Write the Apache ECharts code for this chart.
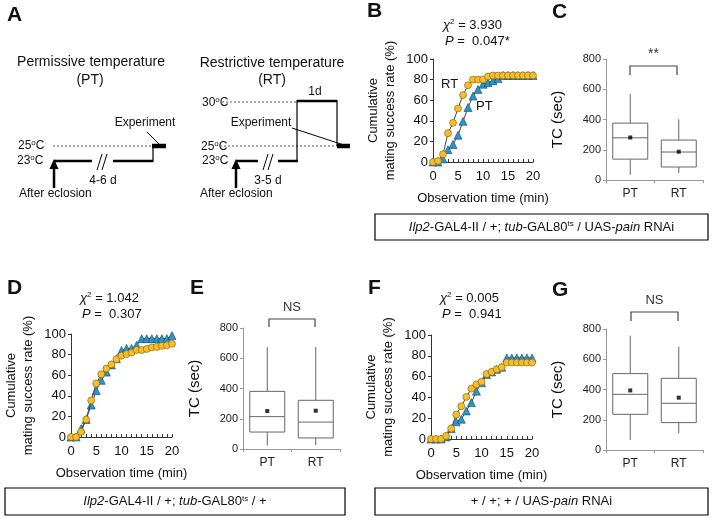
<!DOCTYPE html>
<html><head><meta charset="utf-8">
<script src="https://cdn.jsdelivr.net/npm/echarts@6/dist/echarts.min.js"></script>
<style>html,body{margin:0;padding:0;background:#fff}#c{width:713px;height:522px}</style>
</head><body><div id="c"></div>
<script>
// ---------- DATA ----------
const minutes = [0,1,2,3,4,5,6,7,8,9,10,11,12,13,14,15,16,17,18,19,20];
const B_RT = [0,1,7.5,28,38,52,65,74.5,80,80,80,83,84,84,84,84,84,84,84,84,84];
const B_PT = [0,0,3,12,17,26,39.5,53,64,70.5,75.5,77,79,81,84,84,84,84,84,84,84];
const D_RT = [0,0,5,17,35.5,52,61,66.5,70.5,75.5,79,80.5,82,84.5,84.5,85.5,87,87.5,88.5,89,90.5];
const D_PT = [0,0,8,17,31,45,55,63,70,76,84,86,86,89,95.5,95.5,95.5,95.5,95.5,95.5,98.5];
const F_RT = [0,0,0,3,10,23.5,31.5,40.5,48.5,52.5,55,62.5,64.5,67,69,73.5,73.5,73.5,73.5,73.5,73.5];
const F_PT = [0,0,0,2,10,16.5,19,27,35,46,54,62,64.5,67,69,78,78,78,78,78,78];
const boxCats = ['PT','RT'];
// [min, Q1, median, Q3, max]
const C_box = [[35,138,279,376,569],[46,86,185,264,402]];
const C_mean = [281,187];
const E_box = [[22,112,214,381,674],[26,73,178,322,674]];
const E_mean = [251,253];
const G_box = [[66,236,368,505,756],[110,181,309,474,683]];
const G_mean = [394,346];
const lineYTicks = [0,100,20];
const boxYTicks = [0,800,200];

// ---------- STYLE ----------
const FF = '"Liberation Sans", Arial, sans-serif';
const YEL = '#F6BE2C', YEL_B = '#7a5c0a';
const BLU = '#2C93C6', BLU_B = '#164a66';

const chart = echarts.init(document.getElementById('c'), null, {renderer:'canvas'});

const lineGrids = [
  {left:433, top:59, width:100, height:103},
  {left:71, top:334, width:101, height:103},
  {left:431, top:335, width:101, height:104}
];
const boxGrids = [
  {left:606, top:59, width:97, height:121},
  {left:243, top:328, width:97, height:121},
  {left:606, top:329, width:97, height:121}
];
const grids = lineGrids.concat(boxGrids);
const xAxes = [], yAxes = [], series = [];

lineGrids.forEach((g,i)=>{
  xAxes.push({gridIndex:i, type:'value', min:0, max:20, interval:5,
    name:'Observation time (min)', nameLocation:'middle', nameGap:30,
    nameTextStyle:{fontSize:13, fontFamily:FF, color:'#111'},
    axisLine:{lineStyle:{color:'#333', width:1}},
    axisTick:{inside:true, length:3, lineStyle:{color:'#333'}},
    minorTick:{show:true, splitNumber:5, length:3, lineStyle:{color:'#333'}},
    splitLine:{show:false},
    axisLabel:{fontSize:13, fontFamily:FF, color:'#111', margin:8}});
  yAxes.push({gridIndex:i, type:'value', min:lineYTicks[0], max:lineYTicks[1], interval:lineYTicks[2],
    name:'Cumulative\nmating success rate (%)', nameLocation:'middle', nameGap:34, nameRotate:90,
    nameTextStyle:{fontSize:13, fontFamily:FF, color:'#111', lineHeight:17},
    axisLine:{show:true, lineStyle:{color:'#333'}},
    axisTick:{show:true, length:3, lineStyle:{color:'#333'}},
    splitLine:{show:false},
    axisLabel:{fontSize:13, fontFamily:FF, color:'#111', margin:5}});
});
boxGrids.forEach((g,j)=>{
  const i = j+3;
  xAxes.push({gridIndex:i, type:'category', data:boxCats, boundaryGap:true,
    axisLine:{lineStyle:{color:'#999'}},
    axisTick:{show:true, length:3, lineStyle:{color:'#999'}},
    axisLabel:{fontSize:12, fontFamily:FF, color:'#222', margin:8}});
  yAxes.push({gridIndex:i, type:'value', min:boxYTicks[0], max:boxYTicks[1], interval:boxYTicks[2],
    name:'TC (sec)', nameLocation:'middle', nameGap:41, nameRotate:90,
    nameTextStyle:{fontSize:15, fontFamily:FF, color:'#111'},
    axisLine:{show:true, lineStyle:{color:'#999'}},
    axisTick:{show:true, length:3, lineStyle:{color:'#999'}},
    splitLine:{show:false},
    axisLabel:{fontSize:11, fontFamily:FF, color:'#222', margin:5}});
});

function pairs(arr){ return minutes.map((m,k)=>[m, arr[k]]); }
[[B_PT,B_RT],[D_PT,D_RT],[F_PT,F_RT]].forEach((p,i)=>{
  series.push({type:'line', xAxisIndex:i, yAxisIndex:i, data:pairs(p[0]), symbol:'triangle', symbolSize:8,
    itemStyle:{color:BLU, borderColor:BLU_B, borderWidth:0.6}, lineStyle:{color:'#444', width:1}, z:3, animation:false});
  series.push({type:'line', xAxisIndex:i, yAxisIndex:i, data:pairs(p[1]), symbol:'circle', symbolSize:7,
    itemStyle:{color:YEL, borderColor:YEL_B, borderWidth:0.6}, lineStyle:{color:'#444', width:1}, z:4, animation:false});
});

function boxRender(params, api){
  const c = api.value(0);
  const vals = [1,2,3,4,5].map(k=>api.value(k));
  const p = vals.map(v=>api.coord([c, v]));
  const x = p[0][0], hw = 17.5;
  const st = {stroke:'#666', lineWidth:1, fill:null};
  return {type:'group', children:[
    {type:'line', shape:{x1:x, y1:p[0][1], x2:x, y2:p[1][1]}, style:st},
    {type:'line', shape:{x1:x, y1:p[3][1], x2:x, y2:p[4][1]}, style:st},
    {type:'rect', shape:{x:x-hw, y:p[3][1], width:2*hw, height:p[1][1]-p[3][1]}, style:{stroke:'#666', lineWidth:1, fill:'#fff'}},
    {type:'line', shape:{x1:x-hw, y1:p[2][1], x2:x+hw, y2:p[2][1]}, style:st}
  ]};
}
[[C_box,C_mean],[E_box,E_mean],[G_box,G_mean]].forEach((b,j)=>{
  const i = j+3;
  series.push({type:'custom', xAxisIndex:i, yAxisIndex:i, renderItem:boxRender,
    encode:{x:0, y:[1,2,3,4,5]},
    data:b[0].map((r,k)=>[k].concat(r)), animation:false});
  series.push({type:'scatter', xAxisIndex:i, yAxisIndex:i, symbol:'rect', symbolSize:4,
    itemStyle:{color:'#000'}, data:b[1].map((v,k)=>[k, v]), z:5, animation:false});
});

// ---------- GRAPHIC ----------
function T(x,y,text,size,extra){ return {type:'text', x:x, y:y, z:10,
  style:Object.assign({text:text, fontSize:size||12, fontFamily:FF, fill:'#111', align:'left', verticalAlign:'middle'}, extra||{})}; }
function L(x1,y1,x2,y2,w,dash,color){ return {type:'line', z:10, shape:{x1:x1,y1:y1,x2:x2,y2:y2},
  style:{stroke:color||'#000', lineWidth:w||1, lineDash:dash||null}}; }
function arrow(x,yb,yt){ return [L(x,yb,x,yt+8,2.5),
  {type:'polygon', z:10, shape:{points:[[x-4.5,yt+10],[x+4.5,yt+10],[x,yt]]}, style:{fill:'#000'}}]; }
const degRich = {s:{fontSize:8, fontFamily:FF, fill:'#111', verticalAlign:'top', padding:[0,0,6,0]}};
function deg(x,y,v){ return T(x,y,v+'{s|o}C',12,{rich:degRich}); }
const chiRich = {i:{fontStyle:'italic', fontSize:13, fontFamily:FF, fill:'#111'},
  s:{fontSize:8, fontFamily:FF, fill:'#111', verticalAlign:'top', padding:[0,0,7,0]},
  n:{fontSize:13, fontFamily:FF, fill:'#111'}};
function chi(x,y,c,p){ return [T(x,y,'{i|χ}{s|2}{n| = '+c+'}',13,{rich:chiRich}),
  T(x+2,y+16,'{i|P}{n| =  '+p+'}',13,{rich:chiRich})]; }
const geneRich = {i:{fontStyle:'italic', fontSize:13, fontFamily:FF, fill:'#111'},
  n:{fontSize:13, fontFamily:FF, fill:'#111'},
  s:{fontSize:8, fontFamily:FF, fill:'#111', verticalAlign:'top', padding:[0,0,6,0]}};
function gbox(x,y,w,h,txt){ return [{type:'rect', z:10, shape:{x:x,y:y,width:w,height:h}, style:{fill:'#fff', stroke:'#000', lineWidth:1.2}},
  T(x+w/2, y+h/2, txt, 13, {align:'center', rich:geneRich})]; }
function bracket(x1,x2,yt,yb,label,ly){ return [
  {type:'polyline', z:10, shape:{points:[[x1,yb],[x1,yt],[x2,yt],[x2,yb]]}, style:{stroke:'#444', lineWidth:1.2, fill:null}},
  T((x1+x2)/2, ly, label, label==='NS'?13:14, {align:'center', fill:'#333'})]; }
const LB = {fontWeight:'bold', fontSize:21};

let g = [];
// panel letters
g.push(T(7,15,'A',21,LB), T(367,11,'B',21,LB), T(552,12,'C',21,LB),
       T(7,288,'D',21,LB), T(190,288,'E',21,LB), T(368,288,'F',21,LB), T(552,290,'G',21,LB));
// panel A : PT
g.push(T(91,62,'Permissive temperature',14,{align:'center'}), T(90,80,'(PT)',14,{align:'center'}));
g.push(deg(18,146,'25'), deg(17,161,'23'));
g.push(L(53,146,153,146,1,[2,2],'#555'));
g.push(L(54,161,92,161,2.5), L(113,161,153,161,2.5), L(153,162,153,146,1.2), L(152,146,166,146,4.5));
g.push(L(97,170,102,154,1), L(102,170,107,154,1));
g.push(T(145,123,'Experiment',12,{align:'center'}), L(147,132,159,144,1));
g = g.concat(arrow(54,188,159));
g.push(T(103,181,'4-6 d',12,{align:'center'}), T(19,194,'After eclosion',12));
// panel A : RT
g.push(T(272,63,'Restrictive temperature',14,{align:'center'}), T(272,80,'(RT)',14,{align:'center'}));
g.push(deg(202,103,'30'), deg(201,147,'25'), deg(202,161,'23'));
g.push(L(222,102,297,102,1,[2,2],'#555'), L(220,146,337,146,1,[2,2],'#555'));
g.push(T(315,92,'1d',12,{align:'center'}));
g.push(L(297,101,337,101,2.5), L(297,100,297,162,1.2), L(337,100,337,146,1.2), L(337,146,350,146,4.5));
g.push(L(236,161,258,161,2.5), L(278,161,298,161,2.5), L(263,170,268,154,1), L(268,170,273,154,1));
g.push(T(261,123,'Experiment',12,{align:'center'}), L(292,128,347,146,1));
g = g.concat(arrow(236,188,159));
g.push(T(268,181,'3-5 d',12,{align:'center'}), T(200,194,'After eclosion',12));
// chi texts
g = g.concat(chi(443,25,'3.930','0.047*'), chi(80,298,'1.042','0.307'), chi(440,298,'0.005','0.941'));
// RT / PT labels in B
g.push(T(441,84,'RT',13), T(476,106,'PT',13));
// brackets
g = g.concat(bracket(630,677,66,75,'**',54), bracket(269,315,319,327,'NS',307), bracket(631,678,312,321,'NS',300));
// genotype boxes
g = g.concat(gbox(375,214,333,26,'{i|Ilp2}{n|-GAL4-II / +; }{i|tub}{n|-GAL80}{s|ts}{n| / UAS-}{i|pain}{n| RNAi}'));
g = g.concat(gbox(5,488,340,27,'{i|Ilp2}{n|-GAL4-II / +; }{i|tub}{n|-GAL80}{s|ts}{n| / +}'));
g = g.concat(gbox(375,488,333,27,'{n|+ / +; + / UAS-}{i|pain}{n| RNAi}'));

chart.setOption({
  animation:false,
  backgroundColor:'#fff',
  textStyle:{fontFamily:FF},
  grid:grids, xAxis:xAxes, yAxis:yAxes, series:series, graphic:g
});
</script></body></html>
